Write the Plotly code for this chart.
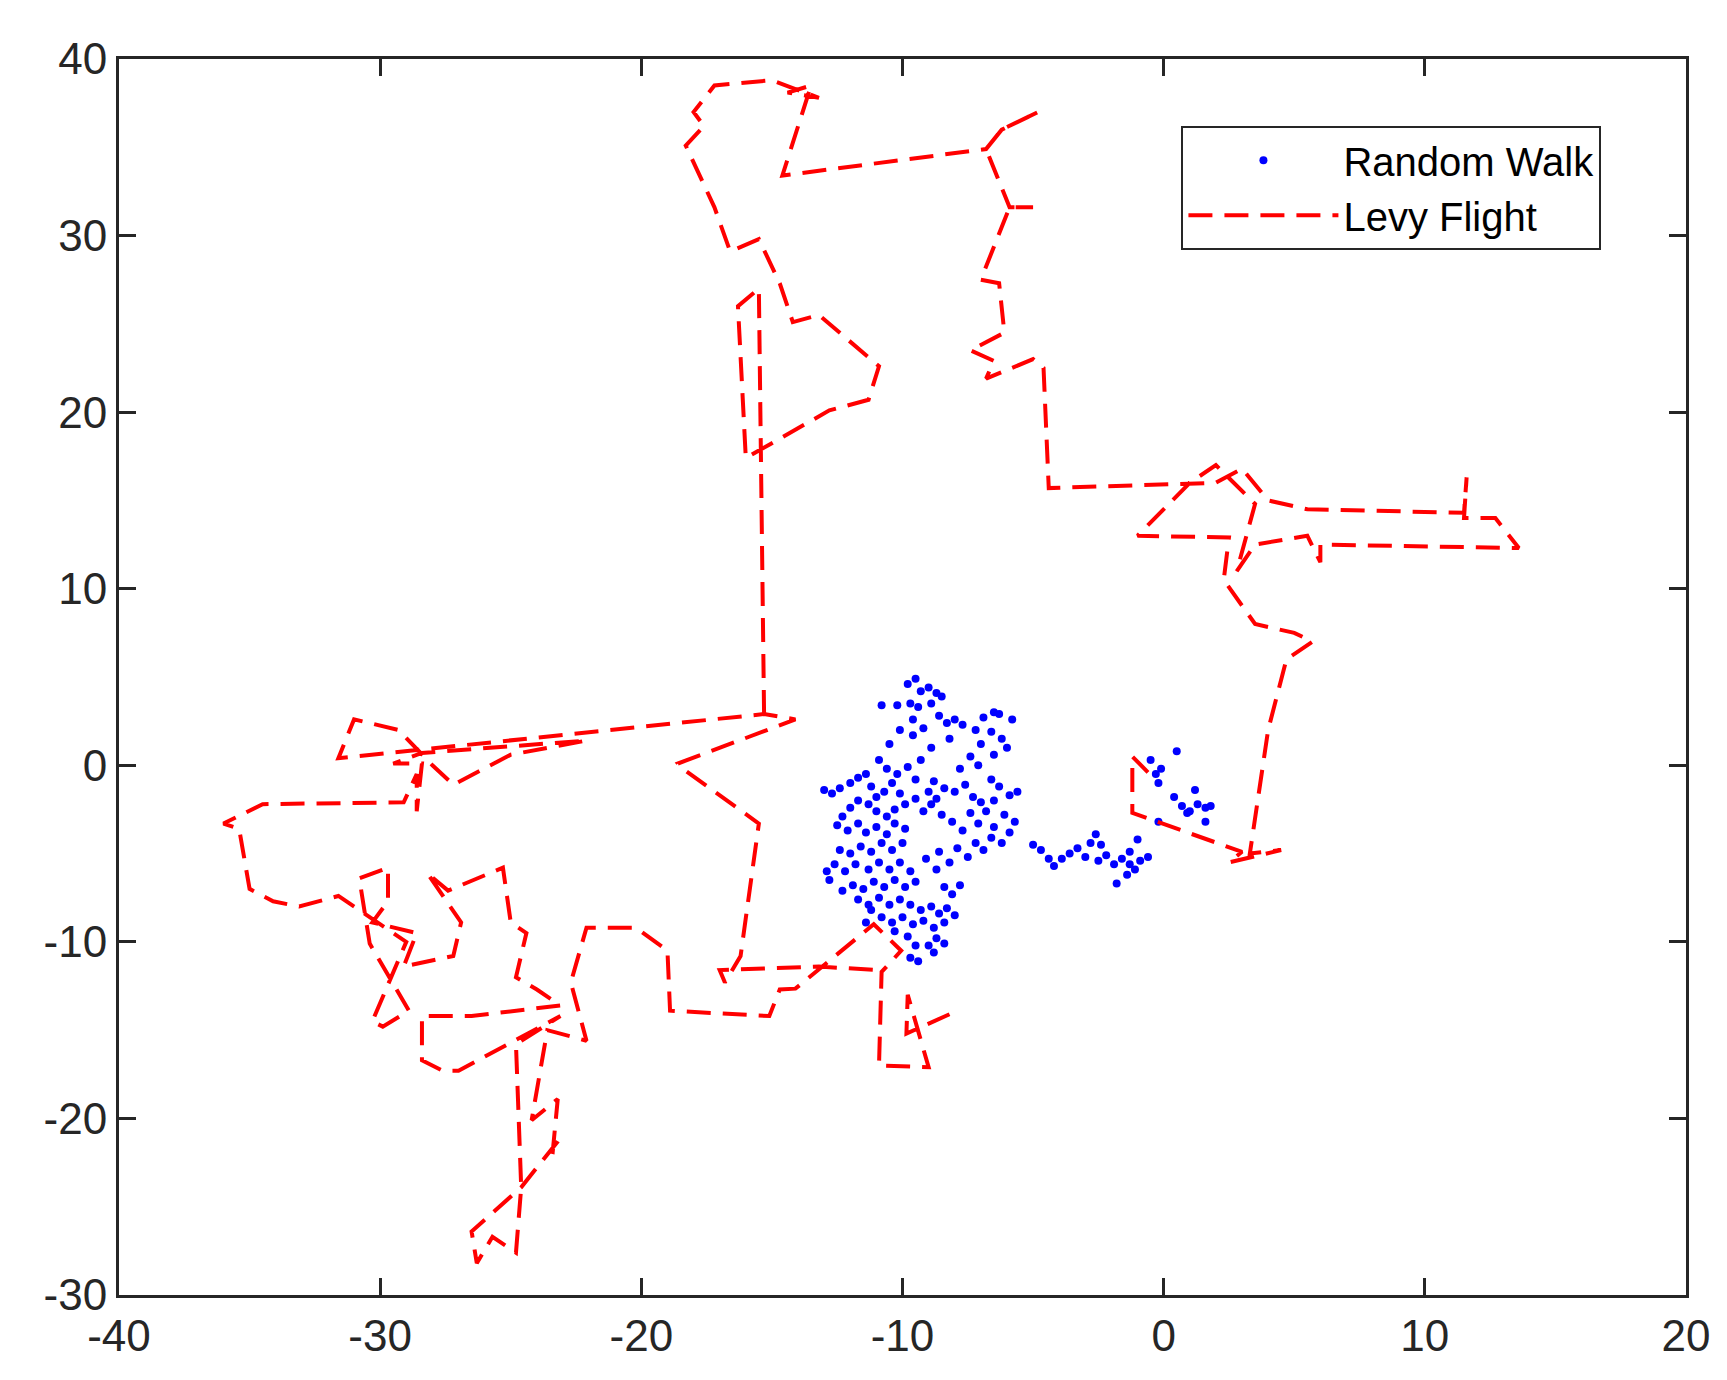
import plotly.graph_objects as go

levy = [(-8.2,-14.1),(-9.85,-15.2),(-9.8,-13.0),(-9.0,-17.1),(-10.9,-17.0),(-10.8,-11.7),(-10.05,-10.5),
(-11.1,-9.0),(-14.1,-12.65),(-14.7,-12.7),(-15.1,-14.2),(-18.9,-13.9),(-19.0,-10.5),(-20.2,-9.2),(-22.1,-9.2),
(-22.7,-12.3),(-22.1,-15.6),(-23.6,-15.0),(-24.2,-20.1),(-23.2,-18.9),(-23.4,-22.0),(-23.2,-21.3),(-24.6,-23.9),
(-26.5,-26.4),(-26.3,-28.2),(-25.7,-26.7),(-24.8,-27.6),(-24.6,-23.9),(-24.8,-15.8),(-23.1,-14.2),(-27.0,-17.3),
(-27.6,-17.3),(-28.4,-16.7),(-28.4,-14.2),(-26.5,-14.2),(-23.1,-13.6),(-24.0,-12.7),(-24.8,-12.0),(-24.4,-9.5),
(-25.0,-8.9),(-25.3,-5.8),(-27.4,-7.1),(-28.2,-6.1),(-26.9,-8.9),(-27.2,-10.8),(-29.1,-11.4),(-28.6,-9.5),
(-30.3,-8.9),(-29.7,-7.7),(-29.7,-5.8),(-30.8,-6.4),(-30.4,-10.1),(-28.9,-13.9),(-29.9,-14.8),(-30.3,-14.5),
(-29.0,-10.0),(-31.6,-7.4),(-33.1,-8.0),(-34.1,-7.7),(-35.0,-7.0),(-35.4,-3.6),(-36.0,-3.3),(-34.5,-2.2),
(-29.1,-2.1),(-28.6,-0.5),(-28.6,-2.6),(-28.4,0.1),(-29.5,0.1),(-28.4,0.7),(-22.1,1.4),(-25.0,0.6),
(-27.2,-1.1),(-28.0,0.0),(-29.3,2.0),(-31.0,2.6),(-31.6,0.4),
(-15.3,2.9),(-14.1,2.6),(-18.6,0.1),(-18.5,-0.1),(-15.5,-3.3),(-16.2,-10.8),(-16.8,-12.3),(-17.0,-11.6),
(-13.2,-11.4),(-10.9,-11.6)]
levy2 = [(-15.3,2.9),(-15.5,27.0),(-16.3,26.0),(-16.0,17.4),(-12.8,20.1),(-11.3,20.7),(-10.9,22.6),(-13.2,25.5),
(-14.2,25.1),(-14.7,27.3),(-15.5,29.8),(-16.6,29.1),(-17.2,31.6),(-18.3,35.1),(-17.6,36.2),(-18.0,37.0),
(-17.2,38.5),(-15.0,38.8),(-13.2,37.8),(-14.4,38.1),(-13.5,38.5),(-14.6,33.4),(-6.8,34.9),(-6.2,36.0),(-4.8,37.0),
(-6.2,36.0),(-6.8,34.9),(-5.9,31.6),(-5.0,31.6),(-5.9,31.6),(-7.0,27.5),(-6.3,27.3),(-6.1,24.5),(-7.4,23.5),
(-6.5,22.9),(-6.8,21.9),(-5.0,23.0),(-4.6,22.5),(-4.4,15.7),(2.0,16.0),(3.0,16.8),(4.0,15.0),(5.5,14.5),
(11.5,14.3),(11.6,16.3),(11.5,14.0),(12.7,14.0),(13.6,12.3),(6.0,12.5),(6.0,11.5),(5.5,13.0),(3.5,12.5),
(2.8,11.0),(3.5,14.8),(2.0,17.0),(1.0,16.0),(-1.0,13.0),(2.5,12.9),(2.3,10.5),(3.5,8.0),(5.0,7.5),(5.7,7.0),
(4.7,6.0),(4.0,2.0),(3.3,-5.0),(4.5,-4.8),(2.5,-5.5),(3.0,-4.9),(-1.2,-2.7),(-1.2,0.5),(-0.6,-0.4)]
levy_x = [p[0] for p in levy] + [None] + [p[0] for p in levy2]
levy_y = [p[1] for p in levy] + [None] + [p[1] for p in levy2]

rw = [(-10.2,3.4),(-9.8,4.6),(-9.5,4.9),(-9.3,4.2),(-9.0,4.4),(-8.7,4.1),(-8.5,3.9),(-8.9,3.5),(-9.4,3.3),(-9.7,3.5),
(-10.8,3.4),(-9.6,2.6),(-9.2,2.1),(-8.6,2.8),(-8.3,2.4),(-8.0,2.6),(-7.7,2.3),(-7.2,2.0),(-6.9,2.7),(-6.5,3.0),
(-6.3,2.9),(-6.6,1.9),(-6.2,1.5),(-5.8,2.6),(-6.0,1.0),(-6.5,0.6),(-7.0,1.2),(-7.4,0.5),(-7.1,0.0),(-7.8,-0.2),
(-8.2,1.5),(-8.9,1.0),(-9.3,0.3),(-9.6,1.7),(-10.1,2.0),(-10.5,1.2),(-10.9,0.3),(-10.6,-0.2),(-10.2,-0.5),(-9.8,-0.1),
(-9.5,-0.8),(-8.8,-0.9),(-8.4,-1.3),(-8.0,-1.5),(-7.6,-1.1),(-7.3,-1.8),
(-13.0,-1.4),(-12.7,-1.6),(-12.4,-1.3),(-12.0,-1.0),(-11.7,-0.7),(-11.4,-0.5),(-11.2,-1.2),(-11.0,-1.8),(-10.7,-1.5),
(-10.4,-1.0),(-10.1,-1.6),(-9.9,-2.2),(-10.3,-2.5),(-10.6,-2.9),(-11.0,-2.6),(-11.3,-2.2),(-11.7,-2.0),(-12.0,-2.4),
(-12.3,-2.9),(-12.5,-3.4),(-12.1,-3.7),(-11.7,-3.3),(-11.4,-3.8),(-11.0,-3.5),(-10.6,-3.9),(-10.3,-3.3),(-9.9,-3.6),
(-10.0,-4.4),(-10.4,-4.8),(-10.8,-4.4),(-11.2,-4.9),(-11.6,-4.6),(-12.0,-5.0),(-12.4,-4.8),(-12.6,-5.6),(-12.2,-6.0),
(-11.8,-5.6),(-11.3,-5.9),(-10.9,-5.5),(-10.5,-5.9),(-10.1,-5.5),(-9.7,-6.0),(-9.5,-6.6),(-9.9,-6.9),(-10.3,-6.5),
(-10.7,-6.9),(-11.1,-6.6),(-11.5,-7.0),(-11.9,-6.8),(-12.3,-7.1),(-12.8,-6.5),(-12.9,-6.0),(-11.7,-7.6),(-11.3,-7.9),
(-10.9,-7.5),(-10.5,-7.9),(-10.1,-7.6),(-9.7,-7.9),(-9.3,-8.2),(-8.9,-8.0),(-8.6,-8.4),(-8.3,-8.1),(-8.0,-8.5),
(-8.4,-8.9),(-8.8,-9.2),(-9.2,-8.8),(-9.6,-9.0),(-10.0,-8.6),(-10.4,-8.9),(-10.8,-8.6),(-11.2,-8.2),(-9.8,-9.7),
(-9.5,-10.2),(-9.7,-10.9),(-9.4,-11.1),(-9.0,-10.2),(-8.7,-9.8),(-8.4,-10.1),(-8.8,-10.6),(-10.3,-9.4),(-11.4,-8.9),
(-8.1,-7.3),(-7.8,-6.8),(-8.4,-6.9),(-8.7,-5.9),(-9.1,-5.3),(-8.6,-4.9),(-8.2,-5.5),(-7.9,-4.7),(-7.5,-5.2),(-7.2,-4.4),
(-6.9,-4.8),(-6.6,-4.1),(-6.2,-4.4),(-5.9,-3.8),(-5.7,-3.2),(-6.1,-2.8),(-6.5,-3.5),(-6.8,-2.6),(-7.1,-3.3),(-7.4,-2.7),
(-7.0,-2.1),(-6.5,-2.0),(-5.9,-1.7),(-5.6,-1.5),(-6.3,-1.2),(-6.6,-0.8),(-7.7,-3.7),(-8.1,-3.2),(-8.5,-2.8),(-8.9,-2.2),
(-9.2,-2.6),(-9.5,-1.9),(-9.0,-1.5),(-8.7,-1.9),
(-5.0,-4.5),(-4.7,-4.8),(-4.4,-5.3),(-4.2,-5.7),(-3.9,-5.3),(-3.6,-5.0),(-3.3,-4.7),(-3.0,-5.2),(-2.8,-4.4),(-2.6,-3.9),
(-2.4,-4.5),(-2.2,-5.1),(-2.5,-5.4),(-1.9,-5.6),(-1.6,-5.3),(-1.3,-5.6),(-1.1,-5.9),(-1.4,-6.2),(-1.8,-6.7),(-0.9,-5.4),
(-0.6,-5.2),(-1.0,-4.2),(-1.3,-4.9),(-0.2,-3.2),
(-0.5,0.3),(-0.3,-0.5),(-0.1,-0.2),(-0.2,-1.0),(0.5,0.8),(0.4,-1.8),(0.7,-2.3),(1.0,-2.6),(1.3,-2.2),(1.2,-1.4),
(1.6,-2.4),(1.8,-2.3),(1.6,-3.2),(0.9,-2.7)]
rw_x = [p[0] for p in rw]
rw_y = [p[1] for p in rw]

x_ticks = [-40, -30, -20, -10, 0, 10, 20]
y_ticks = [-30, -20, -10, 0, 10, 20, 30, 40]
x_labels = [str(v) for v in x_ticks]
y_labels = [str(v) for v in y_ticks]

fig = go.Figure()
fig.add_trace(go.Scatter(x=rw_x, y=rw_y, mode="markers", name="Random Walk",
                         marker=dict(color="#0000ff", size=8)))
fig.add_trace(go.Scatter(x=levy_x, y=levy_y, mode="lines", name="Levy Flight",
                         line=dict(color="#ff0000", width=4, dash="24px,12px")))
ax = dict(showgrid=False, zeroline=False, showline=True, linecolor="#262626", linewidth=3,
          mirror="ticks", ticks="inside", ticklen=17, tickwidth=3, tickcolor="#262626",
          tickfont=dict(family="Arial, Liberation Sans", size=44, color="#262626"))
fig.update_xaxes(range=[-40, 20], tickvals=x_ticks, ticktext=x_labels, **ax)
fig.update_yaxes(range=[-30, 40], tickvals=y_ticks, ticktext=y_labels, **ax)
fig.update_layout(
    width=1727, height=1380, plot_bgcolor="white", paper_bgcolor="white",
    margin=dict(l=111, r=49, t=51, b=93), showlegend=True,
    legend=dict(x=0.678, y=0.946, xanchor="left", yanchor="top", bgcolor="white",
                bordercolor="#262626", borderwidth=2,
                font=dict(family="Arial, Liberation Sans", size=40, color="#000"),
                itemwidth=150),
)
fig.write_html("out.html")
